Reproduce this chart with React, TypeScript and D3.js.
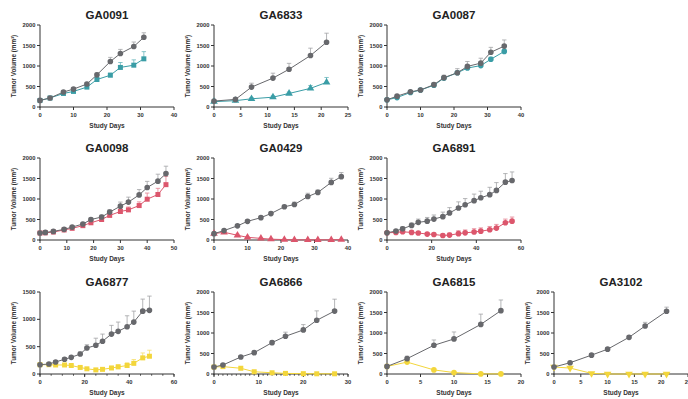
import * as d3 from 'd3';

// ---- data (mean tumour volume, mm³, + upper SEM) ----
const titles = ['GA0091', 'GA6833', 'GA0087', 'GA0098', 'GA0429', 'GA6891', 'GA6877', 'GA6866', 'GA6815', 'GA3102'];

const days0091 = [0, 3, 7, 10, 14, 17, 21, 24, 28, 31];
const ctrl0091 = [160, 220, 365, 437, 560, 785, 1110, 1305, 1475, 1700];
const ctrlErr0091 = [25, 25, 35, 35, 40, 45, 100, 100, 110, 110];
const trt0091 = [160, 220, 330, 380, 485, 670, 775, 965, 1020, 1175];
const trtErr0091 = [25, 25, 30, 35, 35, 40, 50, 120, 130, 175];

const days6833 = [0, 4, 7, 11, 14, 18, 21];
const ctrl6833 = [145, 185, 485, 705, 920, 1255, 1580];
const ctrlErr6833 = [20, 25, 95, 120, 145, 180, 220];
const trt6833 = [130, 155, 200, 240, 330, 455, 600];
const trtErr6833 = [15, 20, 25, 30, 35, 70, 120];

const days0087 = [0, 3, 7, 10, 14, 17, 21, 24, 28, 31, 35];
const ctrl0087 = [175, 265, 370, 415, 545, 715, 835, 990, 1070, 1335, 1485];
const ctrlErr0087 = [20, 30, 30, 30, 50, 60, 100, 120, 120, 120, 150];
const trt0087 = [175, 230, 355, 415, 530, 705, 835, 950, 1010, 1165, 1355];
const trtErr0087 = [15, 20, 25, 25, 30, 40, 40, 50, 50, 50, 60];

const days0098 = [0, 2, 5, 9, 12, 16, 19, 23, 26, 30, 33, 37, 40, 44, 47];
const ctrl0098 = [170, 185, 210, 260, 315, 390, 500, 560, 680, 825, 925, 1100, 1280, 1435, 1620];
const ctrlErr0098 = [15, 15, 20, 25, 30, 40, 40, 50, 60, 100, 120, 130, 150, 170, 180];
const trt0098 = [170, 175, 195, 245, 285, 350, 420, 500, 600, 695, 735, 840, 995, 1110, 1350];
const trtErr0098 = [15, 15, 20, 25, 30, 35, 40, 45, 55, 60, 70, 90, 150, 150, 200];

const days0429 = [0, 3, 7, 10, 14, 17, 21, 24, 28, 31, 35, 38];
const ctrl0429 = [155, 230, 345, 455, 545, 645, 810, 865, 1060, 1160, 1405, 1545];
const ctrlErr0429 = [20, 25, 30, 30, 35, 40, 40, 60, 80, 60, 100, 100];
const trt0429 = [155, 190, 115, 65, 40, 20, 10, 5, 5, 5, 5, 10];
const trtErr0429 = [15, 30, 25, 15, 10, 5, 5, 3, 3, 3, 3, 5];

const days6891 = [0, 4, 7, 11, 14, 18, 21, 25, 28, 32, 35, 39, 42, 46, 49, 53, 56];
const ctrl6891 = [175, 220, 275, 355, 430, 460, 510, 570, 660, 780, 860, 960, 1030, 1105, 1210, 1410, 1450];
const ctrlErr6891 = [20, 30, 50, 60, 80, 90, 100, 110, 130, 150, 150, 160, 160, 180, 190, 210, 210];
const trt6891 = [175, 185, 200, 185, 170, 145, 135, 110, 120, 155, 175, 195, 215, 250, 290, 420, 460];
const trtErr6891 = [15, 20, 30, 30, 30, 30, 30, 40, 50, 70, 70, 80, 80, 80, 90, 90, 100];

const days6877 = [0, 4, 7, 11, 14, 18, 21, 25, 28, 32, 35, 39, 42, 46, 49];
const ctrl6877 = [170, 183, 220, 270, 305, 365, 475, 525, 600, 730, 780, 865, 950, 1150, 1165];
const ctrlErr6877 = [15, 20, 25, 30, 30, 40, 60, 130, 130, 160, 170, 200, 200, 220, 260];
const trt6877 = [170, 170, 165, 165, 155, 120, 95, 75, 85, 110, 130, 155, 195, 295, 325];
const trtErr6877 = [10, 10, 15, 15, 15, 15, 15, 15, 20, 30, 40, 50, 70, 90, 110];

const days6866 = [0, 2, 6, 9, 13, 16, 20, 23, 27];
const ctrl6866 = [170, 220, 415, 520, 765, 920, 1075, 1310, 1535];
const ctrlErr6866 = [20, 25, 30, 40, 50, 100, 130, 230, 290];
const trt6866 = [170, 180, 140, 55, 30, 15, 8, 5, 5];
const trtErr6866 = [15, 15, 15, 10, 8, 5, 3, 3, 3];

const days6815 = [0, 3, 7, 10, 14, 17];
const ctrl6815 = [185, 375, 700, 855, 1210, 1545];
const ctrlErr6815 = [20, 60, 130, 170, 250, 260];
const trt6815 = [185, 290, 100, 35, 3, 3];
const trtErr6815 = [15, 30, 15, 10, 2, 2];

const days3102 = [0, 3, 7, 10, 14, 17, 21];
const ctrl3102 = [170, 275, 460, 605, 895, 1170, 1530];
const ctrlErr3102 = [15, 20, 30, 30, 30, 90, 100];
const trt3102 = [170, 145, 15, 0, 0, 0, 0];
const trtErr3102 = [10, 10, 5, 0, 0, 0, 0];

const xMaxes = [40, 25, 40, 50, 40, 60, 60, 30, 20, 25];
const xSteps = [10, 5, 10, 10, 10, 20, 20, 10, 5, 5];
const xMinorSteps = [0, 0, 0, 0, 0, 0, 5, 1, 0, 0];
const yMaxes = [2000, 2000, 2000, 2000, 2000, 2000, 1500, 2000, 2000, 2000];

// ---- styling / layout ----
const GREY = '#67686c';
const GREY_ERR = '#a2a3a6';
const TEAL = '#3a9da6';
const RED = '#dc566c';
const YELLOW = '#f3d63b';
const trtColors = [TEAL, TEAL, TEAL, RED, RED, RED, YELLOW, YELLOW, YELLOW, YELLOW];
const trtShapes = ['square', 'triangle', 'circle', 'square', 'triangle', 'circle', 'square', 'square', 'circle', 'tridown'];

const FONT = 'Liberation Sans, Arial, Helvetica, sans-serif';
const colLeft = [40, 214, 387, 554];
const rowTop = [25, 158, 292];
const plotW = 134;
const plotH = 82;

const allDays = [days0091, days6833, days0087, days0098, days0429, days6891, days6877, days6866, days6815, days3102];
const allCtrl = [ctrl0091, ctrl6833, ctrl0087, ctrl0098, ctrl0429, ctrl6891, ctrl6877, ctrl6866, ctrl6815, ctrl3102];
const allCtrlErr = [ctrlErr0091, ctrlErr6833, ctrlErr0087, ctrlErr0098, ctrlErr0429, ctrlErr6891, ctrlErr6877, ctrlErr6866, ctrlErr6815, ctrlErr3102];
const allTrt = [trt0091, trt6833, trt0087, trt0098, trt0429, trt6891, trt6877, trt6866, trt6815, trt3102];
const allTrtErr = [trtErr0091, trtErr6833, trtErr0087, trtErr0098, trtErr0429, trtErr6891, trtErr6877, trtErr6866, trtErr6815, trtErr3102];

const lighten = (c: string, k: number) => d3.interpolateRgb(c, '#ffffff')(k);

function symbolPath(shape: string) {
  if (shape === 'square') return d3.symbol(d3.symbolSquare, 25)() as string;
  if (shape === 'triangle' || shape === 'tridown') return d3.symbol(d3.symbolTriangle, 25)() as string;
  return d3.symbol(d3.symbolCircle, 25)() as string;
}

interface SeriesProps {
  days: number[];
  vals: number[];
  errs: number[];
  x: d3.ScaleLinear<number, number>;
  y: d3.ScaleLinear<number, number>;
  color: string;
  errColor: string;
  shape: string;
}

const Series = ({ days, vals, errs, x, y, color, errColor, shape }: SeriesProps) => {
  const line = d3
    .line<number>()
    .x((_d, i) => x(days[i]))
    .y((d) => y(d));
  const sym = symbolPath(shape);
  return (
    <g>
      {vals.map((v, i) =>
        errs[i] > 0 ? (
          <g key={'e' + i} stroke={errColor} strokeWidth={0.8}>
            <line x1={x(days[i])} x2={x(days[i])} y1={y(v)} y2={y(v + errs[i])} />
            <line x1={x(days[i]) - 2.2} x2={x(days[i]) + 2.2} y1={y(v + errs[i])} y2={y(v + errs[i])} />
          </g>
        ) : null
      )}
      <path d={line(vals) as string} fill="none" stroke={color} strokeWidth={1} />
      {vals.map((v, i) => (
        <path
          key={'m' + i}
          d={sym}
          fill={color}
          transform={`translate(${x(days[i])},${y(v)})${shape === 'tridown' ? ' rotate(180)' : ''}`}
        />
      ))}
    </g>
  );
};

const Panel = ({ idx }: { idx: number }) => {
  const col = idx < 6 ? idx % 3 : idx - 6;
  const row = idx < 3 ? 0 : idx < 6 ? 1 : 2;
  const left = colLeft[col];
  const top = rowTop[row];
  const x = d3.scaleLinear().domain([0, xMaxes[idx]]).range([left, left + plotW]);
  const y = d3.scaleLinear().domain([0, yMaxes[idx]]).range([top + plotH, top]);
  const xTicks = d3.range(0, xMaxes[idx] + 0.001, xSteps[idx]);
  const yTicks = d3.range(0, yMaxes[idx] + 1, 500);
  const minor = xMinorSteps[idx] ? d3.range(0, xMaxes[idx] + 0.001, xMinorSteps[idx]) : [];
  const bottom = top + plotH;
  const tc = trtColors[idx];
  return (
    <g fontFamily={FONT}>
      <text x={left + plotW / 2} y={top - 6} textAnchor="middle" fontSize={11.5} fontWeight="bold" fill="#222">
        {titles[idx]}
      </text>
      {/* axes */}
      <g stroke="#333" strokeWidth={1}>
        <line x1={left} x2={left} y1={top} y2={bottom + 0.5} />
        <line x1={left - 0.5} x2={left + plotW} y1={bottom} y2={bottom} />
        {yTicks.map((t) => (
          <line key={'yt' + t} x1={left - 3} x2={left} y1={y(t)} y2={y(t)} />
        ))}
        {xTicks.map((t) => (
          <line key={'xt' + t} x1={x(t)} x2={x(t)} y1={bottom} y2={bottom + 3} />
        ))}
        {minor.map((t) => (
          <line key={'mt' + t} x1={x(t)} x2={x(t)} y1={bottom} y2={bottom + 1.8} strokeWidth={0.8} />
        ))}
      </g>
      <g fontSize={5.8} fontWeight="bold" fill="#333">
        {yTicks.map((t) => (
          <text key={'yl' + t} x={left - 4.5} y={y(t) + 2} textAnchor="end">
            {t}
          </text>
        ))}
        {xTicks.map((t) => (
          <text key={'xl' + t} x={x(t)} y={bottom + 9.5} textAnchor="middle">
            {t}
          </text>
        ))}
      </g>
      <text x={left + plotW / 2} y={bottom + 21} textAnchor="middle" fontSize={6.5} fontWeight="bold" fill="#333">
        Study Days
      </text>
      <text
        transform={`translate(${left - 24},${top + plotH / 2}) rotate(-90)`}
        textAnchor="middle"
        fontSize={6.3}
        fontWeight="bold"
        fill="#333"
      >
        Tumor Volume (mm³)
      </text>
      <Series
        days={allDays[idx]}
        vals={allTrt[idx]}
        errs={allTrtErr[idx]}
        x={x}
        y={y}
        color={tc}
        errColor={lighten(tc, 0.25)}
        shape={trtShapes[idx]}
      />
      <Series
        days={allDays[idx]}
        vals={allCtrl[idx]}
        errs={allCtrlErr[idx]}
        x={x}
        y={y}
        color={GREY}
        errColor={GREY_ERR}
        shape="circle"
      />
    </g>
  );
};

export default function App() {
  return (
    <svg
      width={688}
      height={399}
      viewBox="0 0 688 399"
      style={{ position: 'absolute', left: 0, top: 0, background: '#fff' }}
    >
      <rect width={688} height={399} fill="#fff" />
      {titles.map((_t, i) => (
        <Panel key={i} idx={i} />
      ))}
    </svg>
  );
}
